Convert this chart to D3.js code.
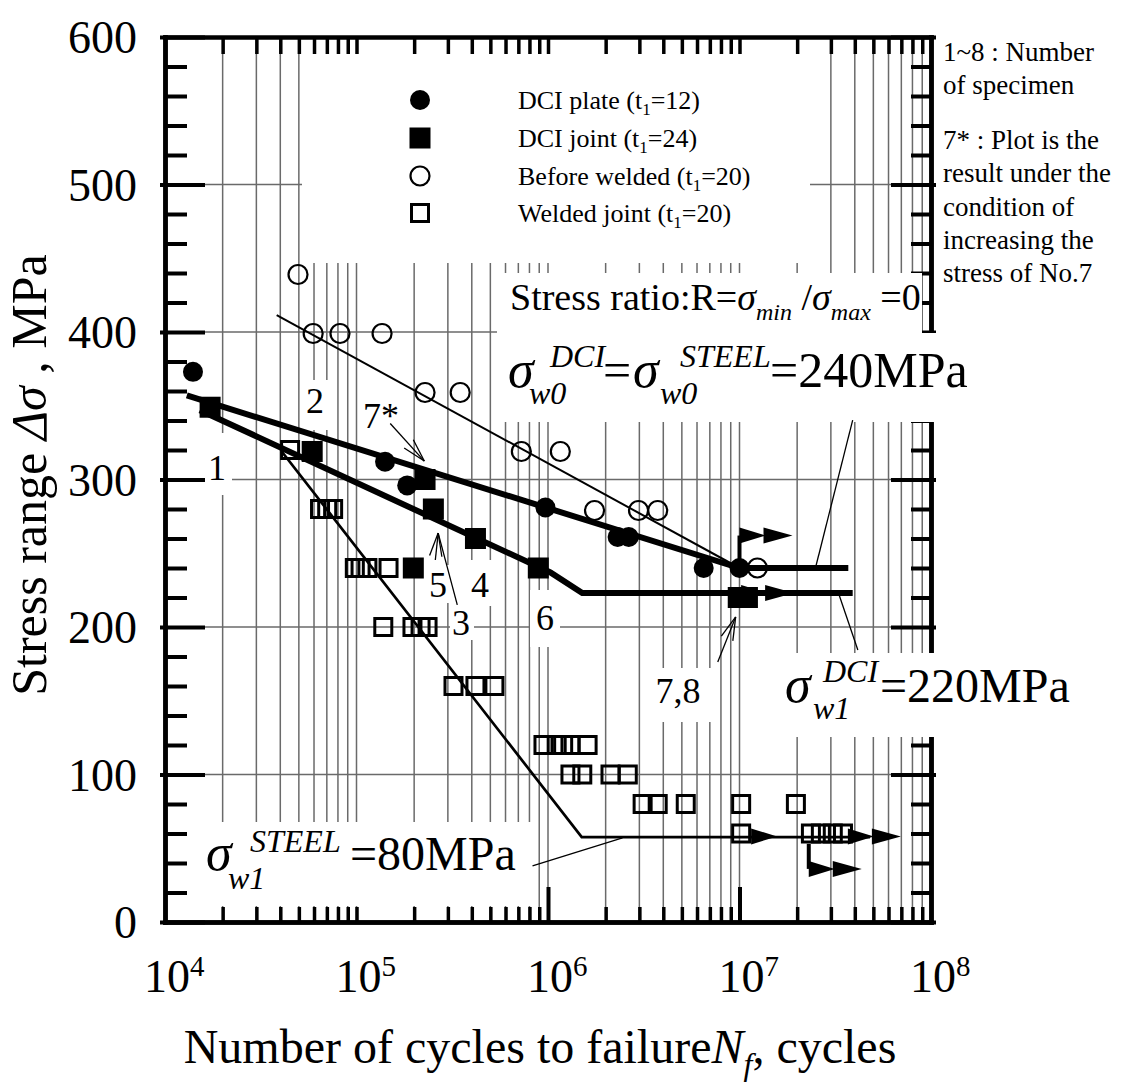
<!DOCTYPE html>
<html><head><meta charset="utf-8">
<script src="https://cdn.jsdelivr.net/npm/d3@7"></script>
<style>
body{margin:0;background:#fff}
svg{display:block}
svg text{font-family:"Liberation Serif","Tinos","Times New Roman","DejaVu Serif",serif !important;fill:#000}
</style>
</head><body>
<svg id="c" width="1122" height="1088" font-family="Liberation Serif, Tinos, Times New Roman, DejaVu Serif, serif"></svg>
<script>
// ---------------- data (N cycles, stress range MPa) ----------------
const dciPlate = [[1.4e4,373],[1.41e5,312],[1.84e5,296],[9.7e5,281],[2.31e6,261],[2.64e6,261],[6.5e6,240],[1e7,240]];
const dciJoint = [[1.72e4,349],[5.87e4,319],[2.28e5,300],[2.52e5,280],[4.18e5,260],[8.9e5,240],[1.98e5,240],[9.85e6,220],[1.1e7,220]];
const beforeWelded = [[4.95e4,439],[5.94e4,399],[8.2e4,399],[1.36e5,399],[2.28e5,359],[3.48e5,359],[7.26e5,319],[1.16e6,319],[1.75e6,279],[2.97e6,279],[3.74e6,279],[1.24e7,240]];
const weldedJoint = [[4.5e4,320],[6.45e4,280],[7.03e4,280],[7.55e4,280],[9.8e4,240],[1.05e5,240],[1.14e5,240],[1.47e5,240],
  [1.38e5,200],[1.96e5,200],[2.16e5,200],[2.35e5,200],[3.21e5,160],[4.18e5,160],[5.25e5,160],
  [9.47e5,120],[1.11e6,120],[1.2e6,120],[1.31e6,120],[1.61e6,120],[1.31e6,100],[1.51e6,100],[2.12e6,100],[2.61e6,100],
  [3.12e6,80],[3.74e6,80],[5.24e6,80],[1.02e7,80],[1.97e7,80],[1.02e7,60],[2.36e7,60],[2.66e7,60],[3.07e7,60],[3.47e7,60]];

// S-N curves
const curveDCIPlate = [[1.3e4,357],[1e7,240],[3.7e7,240]];
const curveDCIJoint = [[1.52e4,347],[1.03e6,237],[1.51e6,223],[3.9e7,223]];
const curveBefore = [[3.83e4,411.5],[1e7,240]];
const curveSteel = [[4.07e4,319],[1.5e6,57.6],[4.8e7,57.6]];

// run-out arrows: [N start, S from, S of arrow, number of heads]
const runouts = [[1e7,240,262,2],[1.02e7,223,223,2],[1.15e7,58,58,1],[3.68e7,58,58,2],[2.3e7,53,36,2]];

// leader lines: [N1,S1,N2,S2,arrowhead]
const leaders = [[1.5e5,338,2.26e5,312.5,true],[2.58e5,245.4,2.67e5,263.7,true],[3.36e5,215,2.67e5,263.7,false],
  [7.7e6,176.3,9.55e6,206.8,true],[3.9e7,340.3,2.5e7,240.7,false],[3.3e7,222.4,4.15e7,184.4,false],[8.3e5,38,2.45e6,57,false]];

const yTicks = [0,100,200,300,400,500,600];
const xDecades = [1e4,1e5,1e6,1e7,1e8];
const legendLabels = [["DCI plate (t","1","=12)"],["DCI joint (t","1","=24)"],["Before welded (t","1","=20)"],["Welded joint (t","1","=20)"]];
const noteLines = ["1~8 : Number","of specimen","7* : Plot is the","result under the","condition of","increasing the","stress of No.7"];

// ---------------- chart ----------------
const FONT = 'Liberation Serif, Tinos, Times New Roman, DejaVu Serif, serif';
const svg = d3.select('#c');
const x = d3.scaleLog().domain([1e4,1e8]).range([165,931]);
const y = d3.scaleLinear().domain([0,600]).range([922,37]);

const minorN = [];
for (let e=4;e<8;e++) for (let k=1;k<=9;k++){ if(e===4&&k===1) continue; minorN.push(k*Math.pow(10,e)); }
const nonDecade = minorN.filter(v=>!xDecades.includes(v));

// grid
const grid = svg.append('g').attr('stroke','#6a6a6a').attr('stroke-width',1.5);
grid.selectAll('.v').data(minorN).join('line').attr('x1',d=>x(d)).attr('x2',d=>x(d)).attr('y1',y(600)).attr('y2',y(0));
grid.selectAll('.h').data([100,200,300,400,500]).join('line').attr('x1',x(1e4)).attr('x2',x(1e8)).attr('y1',d=>y(d)).attr('y2',d=>y(d));

// white label boxes (below axes)
const boxes1 = [[302,39,810,263],[202,433,232,495],[303,380,330,430],[428,565,450,603],[464,560,494,606],[450,603,474,640],[530,590,560,647],[650,668,715,722],[167,822,532,906]];
svg.append('g').selectAll('rect').data(boxes1).join('rect')
  .attr('x',d=>d[0]).attr('y',d=>d[1]).attr('width',d=>d[2]-d[0]).attr('height',d=>d[3]-d[1]).attr('fill','#fff');

// axes
function styleAxis(g,w){ g.attr('font-family',FONT); g.select('.domain').attr('stroke-width',4.5).attr('stroke-linecap','square'); g.selectAll('.tick line').attr('stroke-width',w||4); }
const gLmin = svg.append('g').attr('transform',`translate(${x(1e4)},0)`)
  .call(d3.axisLeft(y).tickValues(d3.range(0,601,20).filter(v=>v%100)).tickSize(-22).tickFormat('').tickSizeOuter(0));
styleAxis(gLmin);
const gL = svg.append('g').attr('transform',`translate(${x(1e4)},0)`)
  .call(d3.axisLeft(y).tickValues(yTicks).tickSize(-40).tickPadding(28).tickSizeOuter(0));
styleAxis(gL); gL.selectAll('.tick line').attr('x1',-5);
gL.selectAll('.tick text').attr('font-size',46).attr('dy','0.34em');

const gRmin = svg.append('g').attr('transform',`translate(${x(1e8)},0)`)
  .call(d3.axisRight(y).tickValues(d3.range(0,601,20).filter(v=>v%100)).tickSize(-20).tickFormat('').tickSizeOuter(0));
styleAxis(gRmin);
const gR = svg.append('g').attr('transform',`translate(${x(1e8)},0)`)
  .call(d3.axisRight(y).tickValues(yTicks).tickSize(-40).tickFormat('').tickSizeOuter(0));
styleAxis(gR); gR.selectAll('.tick line').attr('x1',5);

const gT = svg.append('g').attr('transform',`translate(0,${y(600)})`)
  .call(d3.axisTop(x).tickValues(minorN).tickSize(-17).tickFormat('').tickSizeOuter(0));
styleAxis(gT,3.5);
const gBmin = svg.append('g').attr('transform',`translate(0,${y(0)})`)
  .call(d3.axisBottom(x).tickValues(nonDecade.concat([1e5])).tickSize(-15).tickFormat('').tickSizeOuter(0));
styleAxis(gBmin,3.5);
const gB = svg.append('g').attr('transform',`translate(0,${y(0)})`)
  .call(d3.axisBottom(x).tickValues([1e6,1e7]).tickSize(-35).tickFormat('').tickSizeOuter(0));
styleAxis(gB,4);

// x tick labels 10^n
const xl = svg.append('g');
xDecades.forEach(d=>{
  const e = Math.round(Math.log10(d));
  xl.append('text').attr('x',x(d)+25).attr('y',992).attr('text-anchor','end').attr('font-size',46).text('10');
  xl.append('text').attr('x',x(d)+25).attr('y',976).attr('font-size',29).text(e);
});

// white boxes over the right axis (label backgrounds)
const boxes2 = [[497,273,922,333],[497,333,975,422],[745,653,1078,737]];
svg.append('g').selectAll('rect').data(boxes2).join('rect')
  .attr('x',d=>d[0]).attr('y',d=>d[1]).attr('width',d=>d[2]-d[0]).attr('height',d=>d[3]-d[1]).attr('fill','#fff');

// curves
const line = d3.line().x(d=>x(d[0])).y(d=>y(d[1]));
svg.append('path').datum(curveBefore).attr('d',line).attr('fill','none').attr('stroke','#000').attr('stroke-width',2);
svg.append('path').datum(curveSteel).attr('d',line).attr('fill','none').attr('stroke','#000').attr('stroke-width',2.7);
svg.append('path').datum(curveDCIPlate).attr('d',line).attr('fill','none').attr('stroke','#000').attr('stroke-width',6);
svg.append('path').datum(curveDCIJoint).attr('d',line).attr('fill','none').attr('stroke','#000').attr('stroke-width',6);

// leader lines
const lg = svg.append('g').attr('stroke','#000').attr('stroke-width',1.3).attr('fill','none');
leaders.forEach(l=>{
  const x1=x(l[0]),y1=y(l[1]),x2=x(l[2]),y2=y(l[3]);
  lg.append('line').attr('x1',x1).attr('y1',y1).attr('x2',x2).attr('y2',y2);
  if(l[4]){
    const a=Math.atan2(y1-y2,x1-x2), L=24, h=0.26;
    [a-h,a+h].forEach(b=>lg.append('line').attr('x1',x2).attr('y1',y2).attr('x2',x2+L*Math.cos(b)).attr('y2',y2+L*Math.sin(b)));
  }
});

// markers
function drawMarker(g,type,cx,cy){
  if(type==='fc') g.append('circle').attr('cx',cx).attr('cy',cy).attr('r',10).attr('fill','#000');
  else if(type==='fs') g.append('rect').attr('x',cx-10.5).attr('y',cy-10.5).attr('width',21).attr('height',21).attr('fill','#000');
  else if(type==='oc') g.append('circle').attr('cx',cx).attr('cy',cy).attr('r',9.5).attr('fill','none').attr('stroke','#000').attr('stroke-width',2.2);
  else g.append('rect').attr('x',cx-8.5).attr('y',cy-8.5).attr('width',17).attr('height',17).attr('fill','none').attr('stroke','#000').attr('stroke-width',3);
}
const mg = svg.append('g');
weldedJoint.forEach(d=>drawMarker(mg,'os',x(d[0]),y(d[1])));
beforeWelded.forEach(d=>drawMarker(mg,'oc',x(d[0]),y(d[1])));
dciJoint.forEach(d=>drawMarker(mg,'fs',x(d[0]),y(d[1])));
dciPlate.forEach(d=>drawMarker(mg,'fc',x(d[0]),y(d[1])));

// run-outs
const rg = svg.append('g');
runouts.forEach((r,i)=>{
  const x0=x(r[0]), ya=y(r[2]);
  if(r[1]!==r[2]) rg.append('line').attr('x1',x0).attr('x2',x0).attr('y1',y(r[1])).attr('y2',ya).attr('stroke','#000').attr('stroke-width',4);
  let cx=x0;
  for(let k=0;k<r[3];k++){
    const w = k===0?26:29, h=16;
    rg.append('path').attr('d',`M${cx},${ya-h/2}L${cx+w},${ya}L${cx},${ya+h/2}Z`).attr('fill','#000');
    cx+=w-2;
  }
});

// text helper
function tx(xx,yy,s,txt,it,anchor){ return svg.append('text').attr('x',xx).attr('y',yy).attr('font-size',s).attr('font-family',FONT)
  .attr('font-style',it?'italic':'normal').attr('text-anchor',anchor||'start').text(txt); }

// legend
const leg = svg.append('g').attr('font-family',FONT);
const legTypes=['fc','fs','oc','os'], legY=[100,138,176,213];
legendLabels.forEach((lab,i)=>{
  drawMarker(leg,legTypes[i],420,legY[i]);
  const t=leg.append('text').attr('x',518).attr('y',legY[i]+9).attr('font-size',26).attr('font-family',FONT);
  t.append('tspan').text(lab[0]);
  t.append('tspan').attr('font-size',17).attr('dy',6).text(lab[1]);
  t.append('tspan').attr('dy',-6).text(lab[2]);
});

// notes at right
noteLines.forEach((d,i)=>tx(943,[61,94,149,182,216,249,282][i],27,d,false));

// stress ratio text
const sr = tx(510,310,38,'',false);
sr.append('tspan').text('Stress ratio:R=');
sr.append('tspan').attr('font-style','italic').text('σ');
sr.append('tspan').attr('font-style','italic').attr('font-size',24).attr('dy',10).text('min');
sr.append('tspan').attr('dy',-10).text(' /');
sr.append('tspan').attr('font-style','italic').text('σ');
sr.append('tspan').attr('font-style','italic').attr('font-size',24).attr('dy',10).text('max');
sr.append('tspan').attr('dy',-10).text(' =0');

// sigma labels
tx(508,387,52,'σ',true); tx(550,367,32,'DCI',true); tx(529,404,32,'w0',true);
tx(603,387,50,'=',false);
tx(633,387,52,'σ',true); tx(680,367,32,'STEEL',true); tx(660,404,32,'w0',true);
tx(770,387,50,'=240MPa',false);
tx(785,702,52,'σ',true); tx(823,682,32,'DCI',true); tx(813,719,32,'w1',true);
tx(880,702,48,'=220MPa',false);
tx(206,870,52,'σ',true); tx(250,852,32,'STEEL',true); tx(228,889,32,'w1',true);
tx(350,870,48,'=80MPa',false);

// specimen numbers
const nums = [['1',217,480],['2',315,413],['7*',381,428],['5',438,597],['4',480,597],['3',461,635],['6',545,630],['7,8',678,703]];
nums.forEach(d=>tx(d[1],d[2],36,d[0],false,'middle'));

// axis titles
const yt = svg.append('text').attr('transform','translate(46,475) rotate(-90)').attr('text-anchor','middle').attr('font-size',50).attr('font-family',FONT);
yt.append('tspan').text('Stress range ');
yt.append('tspan').attr('font-style','italic').text('Δσ');
yt.append('tspan').text(' , MPa');
const xt = tx(540,1063,48,'',false,'middle');
xt.append('tspan').text('Number of cycles to failure');
xt.append('tspan').attr('font-style','italic').text('N');
xt.append('tspan').attr('font-style','italic').attr('font-size',32).attr('dy',12).text('f');
xt.append('tspan').attr('dy',-12).text(', cycles');
</script>
</body></html>
